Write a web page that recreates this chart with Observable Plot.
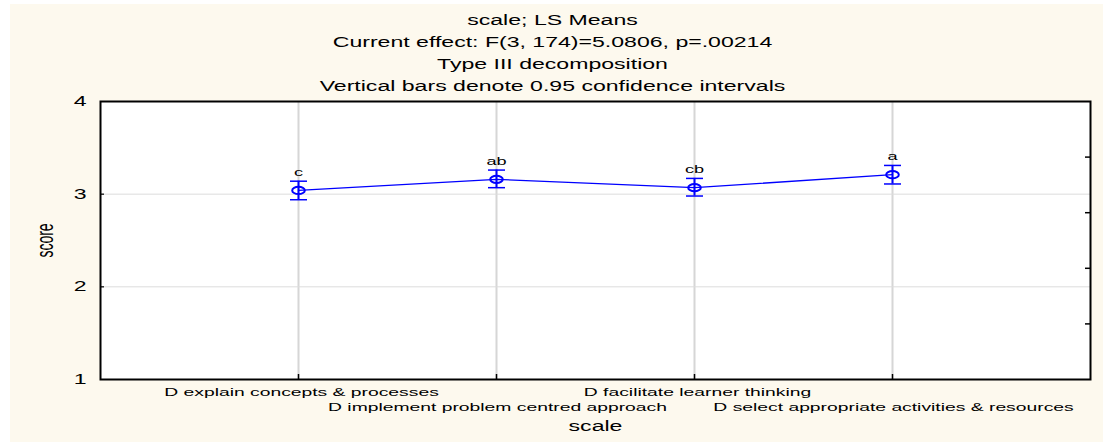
<!DOCTYPE html>
<html><head><meta charset="utf-8">
<script src="https://cdn.jsdelivr.net/npm/d3@7"></script>
<script src="https://cdn.jsdelivr.net/npm/@observablehq/plot@0.6"></script>
<style>
html,body{margin:0;padding:0;background:#fff;}
#wrap{position:relative;width:1103px;height:442px;overflow:hidden;}
#bg{position:absolute;left:10px;top:4px;right:0;bottom:0;background:#fdf9ee;}
#chart{position:absolute;left:0;top:0;}
</style></head><body>
<div id="wrap"><div id="bg"></div><div id="chart"></div></div>
<script>
const categories = [
  "D explain concepts & processes",
  "D implement problem centred approach",
  "D facilitate learner thinking",
  "D select appropriate activities & resources"
];
const means = [3.04, 3.16, 3.07, 3.21];
const lower = [2.94, 3.07, 2.98, 3.11];
const upper = [3.14, 3.26, 3.17, 3.31];
const groups = ["c", "ab", "cb", "a"];
const yTicks = [1, 2, 3, 4];
const rightTicks = [1.6, 2.2, 2.8, 3.4];
const titleLines = [
  "scale; LS Means",
  "Current effect: F(3, 174)=5.0806, p=.00214",
  "Type III decomposition",
  "Vertical bars denote 0.95 confidence intervals"
];
const xTitle = "scale";
const yTitle = "score";

const data = categories.map((c, i) => ({scale: c, mean: means[i], lo: lower[i], hi: upper[i], group: groups[i], row: i % 2}));

const ellipseSymbol = {draw(ctx) {
  const rx = 6.3, ry = 3.6, k = 0.5523;
  ctx.moveTo(rx, 0);
  ctx.bezierCurveTo(rx, ry * k, rx * k, ry, 0, ry);
  ctx.bezierCurveTo(-rx * k, ry, -rx, ry * k, -rx, 0);
  ctx.bezierCurveTo(-rx, -ry * k, -rx * k, -ry, 0, -ry);
  ctx.bezierCurveTo(rx * k, -ry, rx, -ry * k, rx, 0);
  ctx.closePath();
}};
const capSymbol = {draw(ctx) { ctx.moveTo(-8.5, 0); ctx.lineTo(8.5, 0); }};

const blue = "#0000ff";
const plot = Plot.plot({
  width: 1103, height: 442,
  marginLeft: 100, marginRight: 13, marginTop: 101, marginBottom: 63,
  style: {background: "transparent", fontFamily: "'Liberation Sans', Arial, sans-serif", overflow: "visible", color: "#000"},
  x: {type: "point", domain: categories, padding: 1, axis: null},
  y: {domain: [1, 4], axis: null},
  marks: [
    Plot.frame({fill: "white", stroke: null}),
    Plot.gridX({stroke: "#d6d6d6", strokeOpacity: 1, strokeWidth: 2}),
    Plot.gridY(yTicks, {stroke: "#dcdcdc", strokeOpacity: 1, strokeWidth: 1}),
    Plot.axisY(yTicks, {anchor: "left", tickSize: 0, tickPadding: 14, fontSize: 14, label: null, tickFormat: d => String(d)}),
    Plot.tickY(rightTicks, {y: d => d, insetLeft: 985, stroke: "#000", strokeWidth: 1.5}),
    Plot.tickY([2, 3], {y: d => d, insetRight: 986, stroke: "#000", strokeWidth: 1.2}),
    Plot.tickX(categories, {x: d => d, insetTop: 273, stroke: "#000", strokeWidth: 1.5}),
    Plot.frame({stroke: "#000", strokeWidth: 2}),
    Plot.line(data, {x: "scale", y: "mean", stroke: blue, strokeWidth: 1.3}),
    Plot.ruleX(data, {x: "scale", y1: "lo", y2: "hi", stroke: blue, strokeWidth: 2}),
    Plot.dot(data, {x: "scale", y: "lo", symbol: capSymbol, stroke: blue, strokeWidth: 1.5}),
    Plot.dot(data, {x: "scale", y: "hi", symbol: capSymbol, stroke: blue, strokeWidth: 1.5}),
    Plot.dot(data, {x: "scale", y: "mean", symbol: ellipseSymbol, stroke: blue, strokeWidth: 2, fill: "none"}),
    Plot.text(data, {x: "scale", y: "hi", text: "group", dy: -9, fontSize: 11, lineAnchor: "middle", fill: "#000"}),
    Plot.text(data.filter(d => d.row === 0), {x: "scale", text: "scale", frameAnchor: "bottom", lineAnchor: "middle", dy: 12.5, dx: 3, fontSize: 11.7, fill: "#000"}),
    Plot.text(data.filter(d => d.row === 1), {x: "scale", text: "scale", frameAnchor: "bottom", lineAnchor: "middle", dy: 27.5, dx: 1, fontSize: 11.7, fill: "#000"}),
    Plot.text([xTitle], {text: d => d, frameAnchor: "bottom", lineAnchor: "middle", textAnchor: "middle", dy: 47, fontSize: 14, fill: "#000"}),
    Plot.text([yTitle], {text: d => d, frameAnchor: "left", lineAnchor: "middle", textAnchor: "middle", rotate: -90, dx: -55, fontSize: 14, fill: "#000"}),
    ...titleLines.map((t, i) => Plot.text([t], {text: d => d, frameAnchor: "top", lineAnchor: "middle", textAnchor: "middle", dx: -43, dy: -80.5 + i * 21.7, fontSize: 14, fill: "#000"}))
  ]
});

// horizontal stretch of text, as in the reference picture
const SX = 1.65;
plot.querySelectorAll("text").forEach(t => {
  let tr = t.getAttribute("transform");
  if (!tr) {
    const x = +t.getAttribute("x") || 0, y = +t.getAttribute("y") || 0;
    t.removeAttribute("x"); t.removeAttribute("y");
    tr = `translate(${x},${y})`;
  }
  if (tr.includes("rotate")) tr = tr.replace("rotate", `scale(${SX},1) rotate`);
  else tr += ` scale(${SX},1)`;
  t.setAttribute("transform", tr);
});

document.getElementById("chart").appendChild(plot);
</script>
</body></html>
